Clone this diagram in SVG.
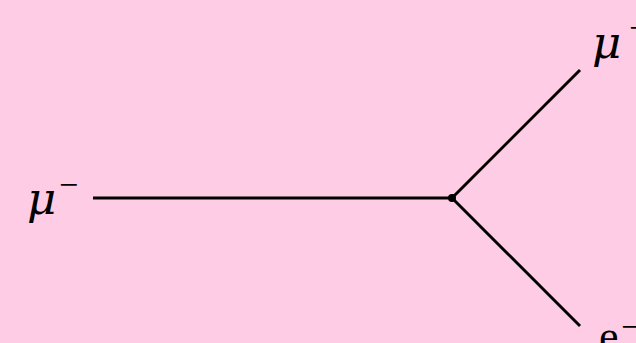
<svg xmlns="http://www.w3.org/2000/svg" width="636" height="343" viewBox="0 0 636 343">
<style>
.ln{stroke:#000;stroke-width:3;fill:none;stroke-linecap:butt}
.lbl{font-family:"DejaVu Serif","Liberation Serif",serif;fill:#000}
.it{font-style:italic;font-size:45px}
.rm{font-size:44px;font-family:"Liberation Serif",serif}
.sup{font-size:34px;font-style:normal;font-family:"Liberation Serif",serif}
</style>
<rect width="636" height="343" fill="#FFCCE6"/>
<g id="connectors">
<line class="ln" x1="93" y1="198" x2="452" y2="198"/>
<line class="ln" x1="452" y1="198" x2="580" y2="70"/>
<line class="ln" x1="452" y1="198" x2="580" y2="326"/>
</g>
<g id="vertex"><circle cx="452" cy="198" r="4" fill="#000"/></g>
<g id="mu-in"><text class="lbl"><tspan class="it" x="27" y="214">μ</tspan><tspan class="sup" x="59" y="196">−</tspan></text></g>
<g id="mu-out"><text class="lbl"><tspan class="it" x="592" y="58">μ</tspan><tspan class="sup" x="629" y="39">−</tspan></text></g>
<g id="e-out"><text class="lbl"><tspan class="rm" x="599" y="351">e</tspan><tspan class="sup" x="621" y="338">−</tspan></text></g>
</svg>
